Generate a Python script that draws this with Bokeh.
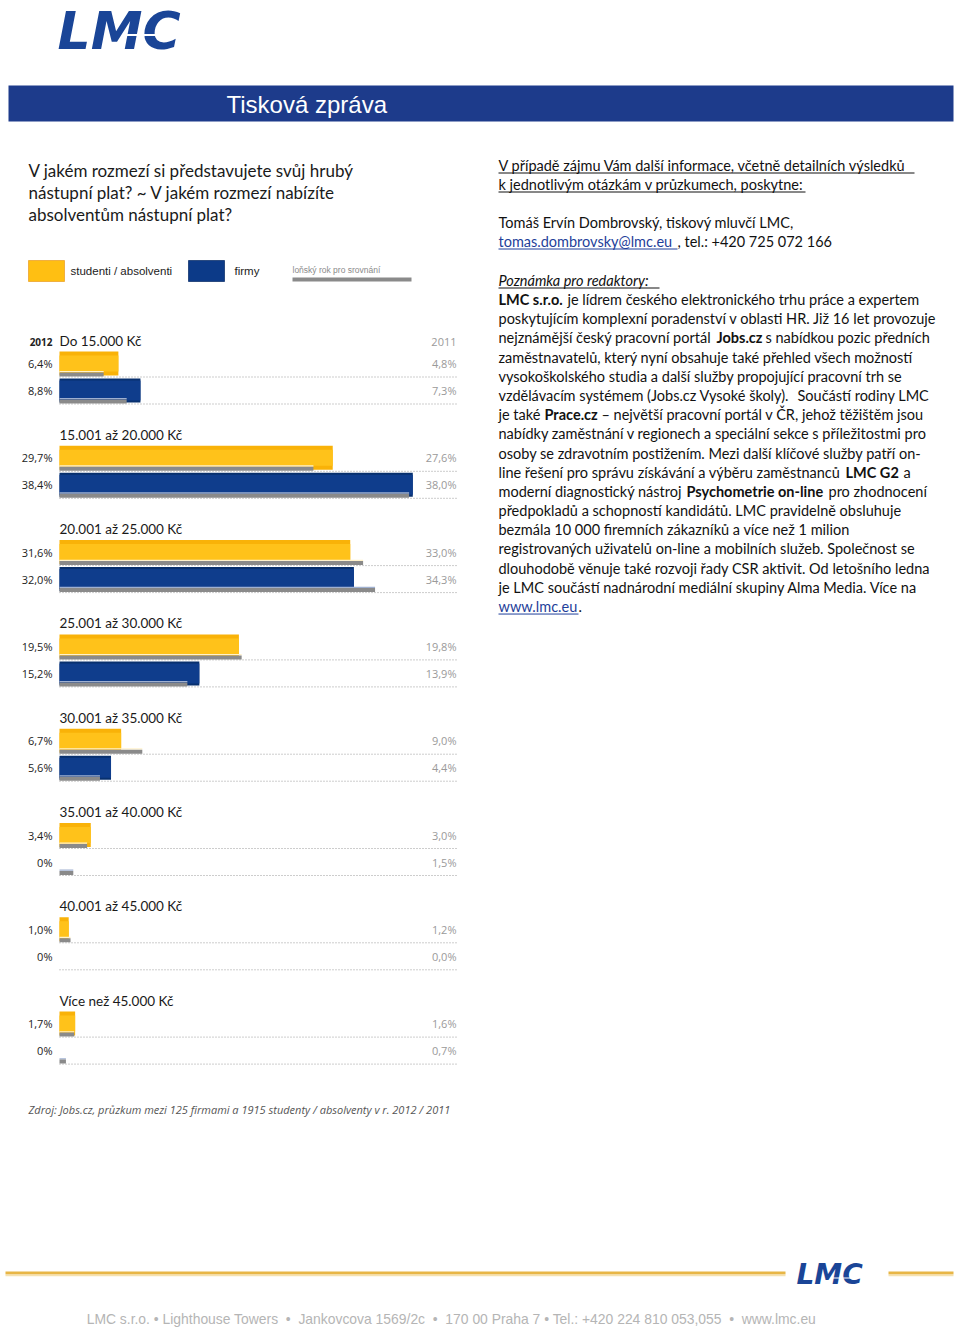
from bokeh.plotting import figure
from bokeh.models import Range1d, ColumnDataSource
from bokeh.core.properties import value
from bokeh.embed import file_html
from bokeh.resources import INLINE

# ---------------- data ----------------
categories = ["Do 15.000 Kč", "15.001 až 20.000 Kč", "20.001 až 25.000 Kč",
              "25.001 až 30.000 Kč", "30.001 až 35.000 Kč", "35.001 až 40.000 Kč",
              "40.001 až 45.000 Kč", "Více než 45.000 Kč"]
students_2012 = [6.4, 29.7, 31.6, 19.5, 6.7, 3.4, 1.0, 1.7]
firms_2012 = [8.8, 38.4, 32.0, 15.2, 5.6, 0.0, 0.0, 0.0]
students_2011 = [4.8, 27.6, 33.0, 19.8, 9.0, 3.0, 1.2, 1.6]
firms_2011 = [7.3, 38.0, 34.3, 13.9, 4.4, 1.5, 0.0, 0.7]

legend_labels = ["studenti / absolventi", "firmy", "loňský rok pro srovnání"]
year_now, year_prev = "2012", "2011"


def fmt(v, keep_decimal=False):
    if v == 0 and not keep_decimal:
        return "0%"
    return ("%.1f" % v).replace(".", ",") + "%"


W, H = 960, 1328
p = figure(width=W, height=H, x_range=Range1d(0, W), y_range=Range1d(H, 0),
           output_backend="svg", toolbar_location=None, min_border=0,
           x_axis_location=None, y_axis_location=None)
p.grid.visible = False
p.outline_line_color = None
p.background_fill_color = "white"
p.border_fill_color = "white"

# percent scale for the bars: 0 % sits at x=59 px, 9.2 px per percent
X0, PX = 59, 9.2
p.extra_x_ranges = {"pct": Range1d(-X0 / PX, (W - X0) / PX)}


def txt(x, y, s, size, color="#111111", font="Lato", style="normal",
        align="left", baseline="middle"):
    p.text(x=[x], y=[y], text=[s], text_font=value(font),
           text_font_size=value("%spx" % size), text_font_style=value(style),
           text_color=color, text_align=align, text_baseline=baseline)


# ---------------- header ----------------
txt(57, 0.3, "LMC", 52, color="#1a4597", font="DejaVu Sans",
    style="bold italic", baseline="top")
p.segment(x0=[126], y0=[34.5], x1=[194], y1=[34.5], line_color="white", line_width=2)
p.quad(left=[8], right=[953], top=[85], bottom=[121], fill_color="#1d3b8b",
       line_color=None)
txt(226, 104, "Tisková zpráva", 24, color="white", font="Liberation Sans")

# ---------------- left title ----------------
for i, line in enumerate(["V jakém rozmezí si představujete svůj hrubý",
                          "nástupní plat? ~ V jakém rozmezí nabízíte",
                          "absolventům nástupní plat?"]):
    txt(28, 170 + 22 * i, line, 17, color="#1a1a1a", font="Lato")

# ---------------- legend ----------------
p.quad(left=[28], right=[64], top=[260], bottom=[281], fill_color="#ffbf12",
       line_color="#f0b040")
txt(70, 270, legend_labels[0], 11.5, color="#222222", font="Liberation Sans")
p.quad(left=[188], right=[224], top=[260], bottom=[281], fill_color="#0c3a88",
       line_color="#2a4a80")
txt(234, 270, legend_labels[1], 11.5, color="#222222", font="Liberation Sans")
txt(292, 269, legend_labels[2], 8.5, color="#8a8a8a", font="Liberation Sans")
p.quad(left=[292], right=[411], top=[277], bottom=[281], fill_color="#8a8a8a",
       line_color=None)

# ---------------- bars ----------------
n = len(categories)
GAP, T0 = 94.3, 340.0
tops = [T0 + GAP * i for i in range(n)]
src = ColumnDataSource(dict(
    t=tops,
    yc=[t + 23 for t in tops], yg=[t + 34 for t in tops], yw=[t + 31.2 for t in tops],
    bc=[t + 50 for t in tops], bg=[t + 61 for t in tops], bw=[t + 58.2 for t in tops],
    s12=students_2012, f12=firms_2012, s11=students_2011, f11=firms_2011,
))

p.hbar(y="yc", left=0, right="s12", height=24, source=src, x_range_name="pct",
       fill_color="#f9b208", line_color=None)
p.hbar(y="yc", left=0, right="s12", height=16, source=src, x_range_name="pct",
       fill_color="#ffc21a", line_color=None)
p.hbar(y="bc", left=0, right="f12", height=24, source=src, x_range_name="pct",
       fill_color="#08306e", line_color=None)
p.hbar(y="bc", left=0, right="f12", height=20, source=src, x_range_name="pct",
       fill_color="#0f3d8c", line_color=None)

for yw, yg, col in (("yw", "yg", "s11"), ("bw", "bg", "f11")):
    p.hbar(y=yw, left=0, right=col, height=1.3, source=src, x_range_name="pct",
           fill_color="#fff2cc" if col == "s11" else "#9fb0d0", line_color=None)
    p.hbar(y=yg, left=0, right=col, height=4, source=src, x_range_name="pct",
           fill_color="#8a8a8a", line_color=None)

for i, t in enumerate(tops):
    p.segment(x0=[59, 59], y0=[t + 36.5, t + 63.5], x1=[456, 456], y1=[t + 36.5, t + 63.5],
              line_color="#9a9a9a", line_width=1, line_dash="1 2")
    txt(59, t, categories[i], 13.5, color="#1a1a1a", font="Lato")
    txt(52, t + 23, fmt(students_2012[i]), 11, color="#222222", font="Open Sans",
        align="right")
    txt(52, t + 50, fmt(firms_2012[i]), 11, color="#222222", font="Open Sans",
        align="right")
    txt(456, t + 23, fmt(students_2011[i], True), 11, color="#9a9a9a",
        font="Open Sans", align="right")
    txt(456, t + 50, fmt(firms_2011[i], True), 11, color="#9a9a9a",
        font="Open Sans", align="right")

txt(52, T0 + 1, year_now, 10, color="#222222", font="Open Sans", style="bold",
    align="right")
txt(456, T0 + 1, year_prev, 11, color="#9a9a9a", font="Open Sans", align="right")

txt(28, 1109, "Zdroj: Jobs.cz, průzkum mezi 125 firmami a 1915 studenty / absolventy v r. 2012 / 2011",
    11, color="#555555", font="Open Sans", style="italic")

# ---------------- right column ----------------
FS = 14.5
RX = 498
link = "#1f3f9a"
lines = [
    (165, [(RX, "V případě zájmu Vám další informace, včetně detailních výsledků", "normal", "#111111")], (498, 914)),
    (184, [(RX, "k jednotlivým otázkám v průzkumech, poskytne:", "normal", "#111111")], (498, 805)),
    (222, [(RX, "Tomáš Ervín Dombrovský, tiskový mluvčí LMC,", "normal", "#111111")], None),
    (241, [(RX, "tomas.dombrovsky@lmc.eu", "normal", link),
           (677, ", tel.: +420 725 072 166", "normal", "#111111")], (498, 677)),
    (280, [(RX, "Poznámka pro redaktory:", "italic", "#111111")], (498, 659)),
]
body = [
    [(RX, "LMC s.r.o.", "bold"), (567, "je lídrem českého elektronického trhu práce a expertem", "normal")],
    [(RX, "poskytujícím komplexní poradenství v oblasti HR. Již 16 let provozuje", "normal")],
    [(RX, "nejznámější český pracovní portál", "normal"), (716, "Jobs.cz", "bold"),
     (765, "s nabídkou pozic předních", "normal")],
    [(RX, "zaměstnavatelů, který nyní obsahuje také přehled všech možností", "normal")],
    [(RX, "vysokoškolského studia a další služby propojující pracovní trh se", "normal")],
    [(RX, "vzdělávacím systémem (Jobs.cz Vysoké školy).", "normal"),
     (797, "Součástí rodiny LMC", "normal")],
    [(RX, "je také", "normal"), (544, "Prace.cz", "bold"),
     (601, "– největší pracovní portál v ČR, jehož těžištěm jsou", "normal")],
    [(RX, "nabídky zaměstnání v regionech a speciální sekce s příležitostmi pro", "normal")],
    [(RX, "osoby se zdravotním postižením. Mezi další klíčové služby patří on-", "normal")],
    [(RX, "line řešení pro správu získávání a výběru zaměstnanců", "normal"),
     (845, "LMC G2", "bold"), (903, "a", "normal")],
    [(RX, "moderní diagnostický nástroj", "normal"), (686, "Psychometrie on-line", "bold"),
     (828, "pro zhodnocení", "normal")],
    [(RX, "předpokladů a schopností kandidátů. LMC pravidelně obsluhuje", "normal")],
    [(RX, "bezmála 10 000 firemních zákazníků a více než 1 milion", "normal")],
    [(RX, "registrovaných uživatelů on-line a mobilních služeb. Společnost se", "normal")],
    [(RX, "dlouhodobě věnuje také rozvoji řady CSR aktivit. Od letošního ledna", "normal")],
    [(RX, "je LMC součástí nadnárodní mediální skupiny Alma Media. Více na", "normal")],
]
for y, segs, ul in lines:
    for x, s, st, c in segs:
        txt(x, y, s, FS, color=c, font="Lato", style=st)
    if ul:
        p.segment(x0=[ul[0]], y0=[y + 7.5], x1=[ul[1]], y1=[y + 7.5],
                  line_color=segs[0][3], line_width=1)
for k, segs in enumerate(body):
    y = 299 + 19.19 * k
    for x, s, st in segs:
        txt(x, y, s, FS, color="#111111", font="Lato", style=st)
y_last = 299 + 19.19 * len(body)
txt(RX, y_last, "www.lmc.eu", FS, color=link, font="Lato")
txt(578, y_last, ".", FS, color="#111111", font="Lato")
p.segment(x0=[498], y0=[y_last + 7.5], x1=[578], y1=[y_last + 7.5], line_color=link,
          line_width=1)

# ---------------- footer ----------------
for x0, x1 in ((5, 785), (888, 953)):
    p.segment(x0=[x0], y0=[1272.5], x1=[x1], y1=[1272.5], line_color="#e8b646", line_width=3)
    p.segment(x0=[x0], y0=[1275], x1=[x1], y1=[1275], line_color="#f6e2b0", line_width=1.5)
txt(796, 1274, "LMC", 28, color="#1a4597", font="DejaVu Sans",
    style="bold italic", baseline="alphabetic")
p.segment(x0=[832], y0=[1277.5], x1=[870], y1=[1277.5], line_color="white", line_width=1.2)
S2 = "\u00a0\u00a0•\u00a0\u00a0"
footer = ("LMC s.r.o. • Lighthouse Towers" + S2 + "Jankovcova 1569/2c" + S2 +
          "170 00 Praha 7 • Tel.: +420 224 810 053,055" + S2 + "www.lmc.eu")
txt(451, 1318, footer, 13.9, color="#b5b5b5", font="Liberation Sans", align="center")

open("out.html", "w").write(file_html(p, INLINE))
